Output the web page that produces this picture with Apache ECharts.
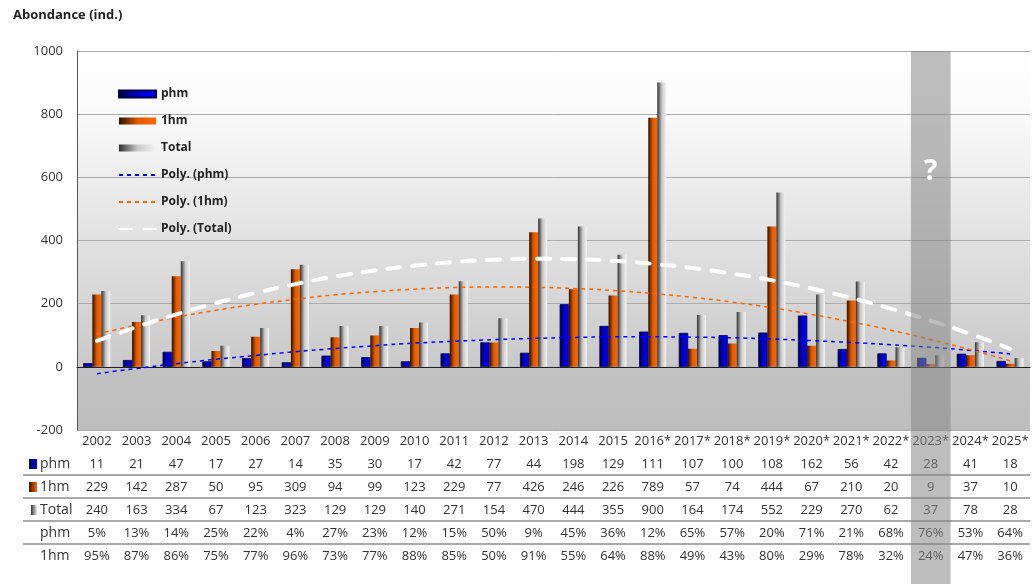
<!DOCTYPE html>
<html>
<head>
<meta charset="utf-8">
<script src="https://cdn.jsdelivr.net/npm/echarts@6/dist/echarts.min.js"></script>
<style>
  html, body { margin: 0; padding: 0; background: #fff; }
  #main { width: 1034px; height: 584px; }
</style>
</head>
<body>
<div id="main"></div>
<script>
var years = ['2002','2003','2004','2005','2006','2007','2008','2009','2010','2011','2012','2013','2014','2015',
  '2016*','2017*','2018*','2019*','2020*','2021*','2022*','2023*','2024*','2025*'];
var phm   = [11,21,47,17,27,14,35,30,17,42,77,44,198,129,111,107,100,108,162,56,42,28,41,18];
var hm1   = [229,142,287,50,95,309,94,99,123,229,77,426,246,226,789,57,74,444,67,210,20,9,37,10];
var total = [240,163,334,67,123,323,129,129,140,271,154,470,444,355,900,164,174,552,229,270,62,37,78,28];
var phmPct = [5,13,14,25,22,4,27,23,12,15,50,9,45,36,12,65,57,20,71,21,68,76,53,64];
var hm1Pct = [95,87,86,75,77,96,73,77,88,85,50,91,55,64,88,49,43,80,29,78,32,24,47,36];
// trend curves (Poly.)
var polyPhm   = [-22,-5,10,24,36,48,58,67,75,81,86,90,93,95,95,94,92,88,83,77,70,62,52,41];
var polyHm1   = [104,132,157,179,198,214,228,238,246,251,253,252,248,242,232,220,205,187,166,142,116,86,54,19];
var polyTotal = [82,126,166,202,234,262,286,305,320,332,339,342,341,336,326,313,295,274,248,218,184,146,104,57];
var yTicks = { min: -200, max: 1000, step: 200 };
var unknownYear = '2023*';

var font = 'Open Sans';
var chart = echarts.init(document.getElementById('main'));

function hGrad(stops) {
  return new echarts.graphic.LinearGradient(0, 0, 1, 0, stops);
}
var phmFill = hGrad([{offset:0,color:'#000028'},{offset:0.45,color:'#0000c8'},{offset:1,color:'#0000ff'}]);
var hm1Fill = hGrad([{offset:0,color:'#2a1000'},{offset:0.5,color:'#e05a00'},{offset:1,color:'#ff6600'}]);
var totFill = hGrad([{offset:0,color:'#303030'},{offset:0.5,color:'#c8c8c8'},{offset:1,color:'#f4f4f4'}]);

function tableAxis(data, offset, fmt) {
  return {
    type: 'category',
    gridIndex: 0,
    position: 'bottom',
    offset: offset,
    data: data,
    axisLine: { show: false, onZero: false },
    axisTick: { show: false },
    splitLine: { show: false },
    axisLabel: {
      interval: 0, margin: 5, fontSize: 13, color: '#333', fontFamily: font,
      formatter: fmt || null
    }
  };
}
var pct = function (v) { return v + '%'; };
var noDot = { opacity: 0, color: 'rgba(0,0,0,0)', borderWidth: 0 };

var option = {
  animation: false,
  title: {
    text: 'Abondance (ind.)',
    left: 8, top: 4,
    textStyle: { fontSize: 13, fontWeight: 'bold', color: '#222', fontFamily: font }
  },
  legend: {
    orient: 'vertical',
    left: 113, top: 83,
    itemWidth: 37, itemHeight: 7, itemGap: 15,
    textStyle: { fontSize: 12, fontWeight: 'bold', color: '#222', fontFamily: font },
    data: [
      { name: 'phm', icon: 'rect' },
      { name: '1hm', icon: 'rect' },
      { name: 'Total', icon: 'rect' },
      { name: 'Poly. (phm)', itemStyle: noDot },
      { name: 'Poly. (1hm)', itemStyle: noDot },
      { name: 'Poly. (Total)', itemStyle: noDot }
    ]
  },
  grid: {
    left: 77, right: 4, top: 51, bottom: 154,
    show: true,
    borderWidth: 0,
    backgroundColor: new echarts.graphic.LinearGradient(0, 0, 0, 1, [
      {offset:0,color:'#ffffff'},{offset:0.15,color:'#fbfbfb'},
      {offset:0.83,color:'#c9c9c9'},{offset:0.832,color:'#c2c2c2'},{offset:1,color:'#bebebe'}
    ])
  },
  xAxis: [
    {
      type: 'category',
      data: years,
      axisLine: { onZero: true, lineStyle: { color: '#222', width: 1 } },
      axisTick: { show: false },
      axisLabel: { show: false },
      splitLine: { show: false }
    },
    tableAxis(years, 0),
    tableAxis(phm, 23),
    tableAxis(hm1, 46),
    tableAxis(total, 69),
    tableAxis(phmPct, 92, pct),
    tableAxis(hm1Pct, 115, pct)
  ],
  yAxis: {
    type: 'value',
    min: yTicks.min, max: yTicks.max, interval: yTicks.step,
    axisLine: { show: true, lineStyle: { color: '#555' } },
    axisTick: { show: false },
    axisLabel: { fontSize: 13, color: '#333', fontFamily: font, margin: 14,
      formatter: function (v) { return String(v); } },
    splitLine: { lineStyle: { color: '#ababab', width: 1 } }
  },
  series: [
    { name: 'phm', type: 'bar', data: phm, barWidth: 9, barGap: '0%',
      itemStyle: { color: phmFill, borderColor: '#000050', borderWidth: 0.5 } },
    { name: '1hm', type: 'bar', data: hm1, barWidth: 9, barGap: '0%',
      itemStyle: { color: hm1Fill } },
    { name: 'Total', type: 'bar', data: total, barWidth: 9, barGap: '0%',
      itemStyle: { color: totFill } },
    { name: 'Poly. (phm)', type: 'line', data: polyPhm, smooth: true, symbol: 'none', z: 5,
      lineStyle: { color: '#0000ff', width: 1.5, type: [4, 4] }, itemStyle: { color: '#0000ff' } },
    { name: 'Poly. (1hm)', type: 'line', data: polyHm1, smooth: true, symbol: 'none', z: 5,
      lineStyle: { color: '#ff6600', width: 1.5, type: [4, 4] }, itemStyle: { color: '#ff6600' } },
    { name: 'Poly. (Total)', type: 'line', data: polyTotal, smooth: true, symbol: 'none', z: 6,
      lineStyle: { color: '#ffffff', width: 4, type: [13, 12], cap: 'round' }, itemStyle: { color: '#ffffff' } }
  ]
};
chart.setOption(option);

// table row labels, separators and the 2023 overlay
var rows = [
  { t: 'phm',   y: 464, fill: hGrad([{offset:0,color:'#000040'},{offset:1,color:'#0000ff'}]), w: 8 },
  { t: '1hm',   y: 487, fill: hGrad([{offset:0,color:'#3a1400'},{offset:1,color:'#ff6600'}]), w: 8 },
  { t: 'Total', y: 510, fill: hGrad([{offset:0,color:'#333'},{offset:1,color:'#eee'}]), w: 6 },
  { t: 'phm',   y: 533 },
  { t: '1hm',   y: 556 }
];
var g = [];
rows.forEach(function (r) {
  if (r.fill) {
    g.push({ type: 'rect', shape: { x: 37 - r.w, y: r.y - 5, width: r.w, height: 10 }, style: { fill: r.fill } });
  }
  g.push({ type: 'text', x: 40, y: r.y, style: { text: r.t, fill: '#333', font: '14px "' + font + '"', textVerticalAlign: 'middle' } });
});
[475, 498, 521, 544].forEach(function (y) {
  g.push({ type: 'line', shape: { x1: 23, y1: y, x2: 1030, y2: y }, style: { stroke: '#8c8c8c', lineWidth: 1.5 } });
});

var gridW = 1034 - 77 - 4;
var band = gridW / years.length;
var cx = chart.convertToPixel({ xAxisIndex: 0 }, unknownYear);
g.push({ type: 'rect', z: 100, shape: { x: cx - band / 2, y: 51, width: band, height: 584 - 51 },
  style: { fill: 'rgba(133,133,133,0.54)' } });
g.push({ type: 'text', z: 101, x: cx, y: 172, style: { text: '?', fill: '#fff', font: 'bold 28px "' + font + '"',
  textAlign: 'center', textVerticalAlign: 'middle' } });

chart.setOption({ graphic: g });
</script>
</body>
</html>
